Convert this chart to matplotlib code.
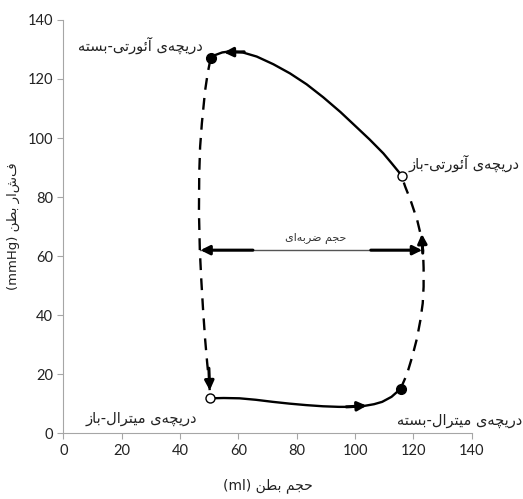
import matplotlib
matplotlib.use('Agg')
import matplotlib.pyplot as plt

# Persian letters -> presentation forms (isolated, final, initial, medial)
# matplotlib has no arabic shaping, so do it by hand
FORMS = {
    'ا': ('\uFE8D', '\uFE8E', None, None),
    'آ': ('\uFE81', '\uFE82', None, None),
    'د': ('\uFEA9', '\uFEAA', None, None),
    'ر': ('\uFEAD', '\uFEAE', None, None),
    'ز': ('\uFEAF', '\uFEB0', None, None),
    'و': ('\uFEED', '\uFEEE', None, None),
    'ب': ('\uFE8F', '\uFE90', '\uFE91', '\uFE92'),
    'ت': ('\uFE95', '\uFE96', '\uFE97', '\uFE98'),
    'ج': ('\uFE9D', '\uFE9E', '\uFE9F', '\uFEA0'),
    'ح': ('\uFEA1', '\uFEA2', '\uFEA3', '\uFEA4'),
    'س': ('\uFEB1', '\uFEB2', '\uFEB3', '\uFEB4'),
    'ض': ('\uFEBD', '\uFEBE', '\uFEBF', '\uFEC0'),
    'ط': ('\uFEC1', '\uFEC2', '\uFEC3', '\uFEC4'),
    'ف': ('\uFED1', '\uFED2', '\uFED3', '\uFED4'),
    'ل': ('\uFEDD', '\uFEDE', '\uFEDF', '\uFEE0'),
    'م': ('\uFEE1', '\uFEE2', '\uFEE3', '\uFEE4'),
    'ن': ('\uFEE5', '\uFEE6', '\uFEE7', '\uFEE8'),
    'ه': ('\uFEE9', '\uFEEA', '\uFEEB', '\uFEEC'),
    'ئ': ('\uFE89', '\uFE8A', '\uFE8B', '\uFE8C'),
    'چ': ('\uFB7A', '\uFB7B', '\uFB7C', '\uFB7D'),
    'ی': ('\uFBFC', '\uFBFD', '\uFBFE', '\uFBFF'),
}


def rtl(s):
    out = []
    for i, c in enumerate(s):
        if c not in FORMS:
            if c != '\u200c':
                out.append(c)
            continue
        prev = s[i - 1] if i > 0 else None
        nxt = s[i + 1] if i + 1 < len(s) else None
        jp = prev in FORMS and FORMS[prev][2] is not None
        jn = nxt in FORMS and FORMS[c][2] is not None
        iso, fin, ini, med = FORMS[c]
        if jp and jn:
            out.append(med)
        elif jp:
            out.append(fin)
        elif jn:
            out.append(ini)
        else:
            out.append(iso)
    return ''.join(out)[::-1]


# data (volume ml, pressure mmHg)
eject_v = [116.0, 115.4, 112.5, 109.7, 105.0, 100.6, 95.0, 89.1, 83.4, 77.7, 72.0, 66.3, 61.5, 57.5, 54.5, 52.3, 50.5]
eject_p = [87.0, 88.0, 91.5, 94.8, 99.5, 103.6, 108.8, 113.8, 118.2, 121.9, 125.0, 127.6, 129.0, 129.4, 129.0, 128.2, 127.0]
relax_v = [50.5, 49.5, 48.6, 47.5, 46.9, 46.6, 46.5, 46.8, 47.3, 47.9, 48.6, 49.3, 50.0, 50.4]
relax_p = [127.0, 122.0, 116.0, 105.0, 97.0, 88.0, 75.0, 62.0, 52.0, 42.0, 32.0, 24.0, 17.0, 11.8]
fill_v = [50.4, 55.0, 60.4, 66.0, 71.8, 77.5, 83.2, 89.0, 94.5, 99.0, 103.0, 106.5, 109.3, 112.5, 115.6]
fill_p = [11.8, 11.9, 11.8, 11.3, 10.6, 10.0, 9.5, 9.1, 8.9, 8.9, 9.2, 9.8, 10.6, 12.3, 15.0]
contr_v = [115.6, 117.8, 119.6, 121.2, 122.4, 123.2, 123.5, 123.5, 123.3, 122.8, 121.3, 119.0, 117.2, 116.0]
contr_p = [15.0, 20.0, 25.9, 32.0, 38.3, 44.0, 49.6, 56.0, 62.0, 66.0, 72.2, 79.0, 83.5, 87.0]

closed_v = [50.5, 115.6]   # aortic closed, mitral closed
closed_p = [127.0, 15.0]
open_v = [116.0, 50.4]     # aortic open, mitral open
open_p = [87.0, 11.8]

sv_left = 47.0
sv_right = 123.0
sv_p = 62.0

ticks = [0, 20, 40, 60, 80, 100, 120, 140]

lbl_aortic_closed = 'دریچه\u200cی آئورتی-بسته'
lbl_aortic_open = 'دریچه\u200cی آئورتی-باز'
lbl_mitral_open = 'دریچه\u200cی میترال-باز'
lbl_mitral_closed = 'دریچه\u200cی میترال-بسته'
lbl_sv = 'حجم ضربه\u200cای'
xlab = 'حجم بطن'
ylab = 'فشار بطن'

plt.rcParams['font.family'] = ['DejaVu Sans']

fig = plt.figure(figsize=(5.23, 4.99), dpi=100)
ax = fig.add_axes([0.121, 0.132, 0.781, 0.828])

ax.plot(eject_v, eject_p, color='black', lw=1.7, zorder=2)
ax.plot(fill_v, fill_p, color='black', lw=1.7, zorder=2)
ax.plot(relax_v, relax_p, color='black', lw=1.7, ls=(0, (5, 3.5)), zorder=2)
ax.plot(contr_v, contr_p, color='black', lw=1.7, ls=(0, (5, 3.5)), zorder=2)

ax.plot(closed_v, closed_p, 'o', ms=7, color='black', zorder=4)
ax.plot(open_v, open_p, 'o', ms=6.5, mfc='white', mec='black', mew=1, zorder=4)

# direction arrows on the loop
arr = dict(arrowstyle='-|>,head_length=0.6,head_width=0.3', color='black',
           lw=2.2, mutation_scale=9, shrinkA=0, shrinkB=0)
ax.annotate('', xy=(55.0, 129.0), xytext=(62.0, 129.2), arrowprops=arr)
ax.annotate('', xy=(104.0, 9.3), xytext=(97.0, 8.9), arrowprops=arr)
ax.annotate('', xy=(50.2, 14.5), xytext=(49.9, 22.0), arrowprops=arr)
ax.annotate('', xy=(122.9, 67.5), xytext=(123.2, 61.0), arrowprops=arr)

# stroke volume
ax.plot([sv_left, sv_right], [sv_p, sv_p], color='#555555', lw=1, zorder=1)
ax.annotate('', xy=(sv_left, sv_p), xytext=(65.0, sv_p), arrowprops=arr)
ax.annotate('', xy=(sv_right, sv_p), xytext=(105.4, sv_p), arrowprops=arr)
ax.text(86.6, sv_p + 2.0, rtl(lbl_sv), ha='center', va='bottom', fontsize=8, color='#333333')

tc = '#222222'
ax.text(26.3, 131.5, rtl(lbl_aortic_closed), ha='center', va='center', fontsize=10.5, color=tc)
ax.text(118.2, 91.5, rtl(lbl_aortic_open), ha='left', va='center', fontsize=10.5, color=tc)
ax.text(26.6, 5.1, rtl(lbl_mitral_open), ha='center', va='center', fontsize=10.5, color=tc)
ax.text(114.3, 4.4, rtl(lbl_mitral_closed), ha='left', va='center', fontsize=10.5, color=tc)

ax.set_xlim(0, 140)
ax.set_ylim(0, 140)
ax.set_xticks(ticks)
ax.set_yticks(ticks)
for s in ['top', 'right']:
    ax.spines[s].set_visible(False)
for s in ['left', 'bottom']:
    ax.spines[s].set_color('#a6a6a6')
ax.tick_params(colors='#a6a6a6', labelcolor='#222222', labelsize=10.5, length=4)
for t in ax.get_xticklabels() + ax.get_yticklabels():
    t.set_fontfamily('Lato')

ax.set_xlabel('(ml) ' + rtl(xlab), fontsize=10, color='#222222', labelpad=15)
ax.set_ylabel('(mmHg) ' + rtl(ylab), fontsize=9.5, color='#222222', labelpad=5)

fig.savefig('out.png', dpi=100)
